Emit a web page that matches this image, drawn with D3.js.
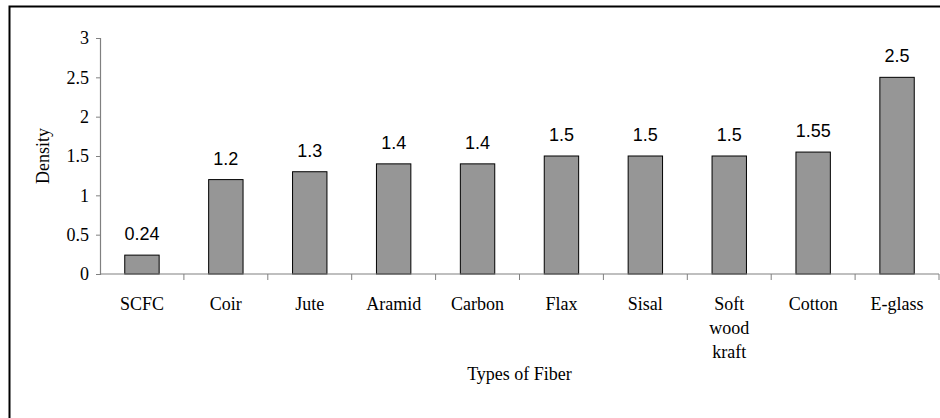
<!DOCTYPE html>
<html>
<head>
<meta charset="utf-8">
<script src="https://cdn.jsdelivr.net/npm/d3@7"></script>
<style>
  body { margin: 0; background: #fff; }
  svg { display: block; }
</style>
</head>
<body>
<svg id="chart"></svg>
<script>
// data
const fibers = ['SCFC', 'Coir', 'Jute', 'Aramid', 'Carbon', 'Flax', 'Sisal', 'Soft wood kraft', 'Cotton', 'E-glass']
const fiberLines = [['SCFC'], ['Coir'], ['Jute'], ['Aramid'], ['Carbon'], ['Flax'], ['Sisal'], ['Soft', 'wood', 'kraft'], ['Cotton'], ['E-glass']]
const density = [0.24, 1.2, 1.3, 1.4, 1.4, 1.5, 1.5, 1.5, 1.55, 2.5]
const densityLabels = ['0.24', '1.2', '1.3', '1.4', '1.4', '1.5', '1.5', '1.5', '1.55', '2.5']
const yTicks = [0, 0.5, 1, 1.5, 2, 2.5, 3]

const width = 940, height = 418
const serif = '"Liberation Serif", "Times New Roman", serif'
const sans = '"Liberation Sans", Arial, sans-serif'

let svg = d3.select('#chart')
    .attr('width', width)
    .attr('height', height)

// outer frame
svg.append('rect')
    .attr('x', 9.5)
    .attr('y', 6.5)
    .attr('width', 940)
    .attr('height', 430)
    .style('fill', '#fff')
    .style('stroke', '#000')
    .style('stroke-width', 2)

const plotLeft = 100, plotRight = 939, plotTop = 38, plotBottom = 274

let x = d3.scaleBand()
    .domain(fibers)
    .range([plotLeft, plotRight])
    .paddingInner(0.59)
    .paddingOuter(0.295)

let y = d3.scaleLinear()
    .domain([0, 3])
    .range([plotBottom, plotTop])

const step = x.step()
const gap = step * x.paddingInner() / 2

// bars
svg.append('g').selectAll('rect')
    .data(fibers)
    .enter().append('rect')
    .attr('x', d => x(d))
    .attr('y', (d, i) => y(density[i]))
    .attr('width', x.bandwidth())
    .attr('height', (d, i) => y(0) - y(density[i]))
    .style('fill', '#969696')
    .style('stroke', '#000')
    .style('stroke-width', 1)

// value labels
svg.append('g').selectAll('text')
    .data(fibers)
    .enter().append('text')
    .attr('x', d => x(d) + x.bandwidth() / 2)
    .attr('y', (d, i) => y(density[i]) - 15)
    .attr('text-anchor', 'middle')
    .style('font-family', sans)
    .style('font-size', '18px')
    .style('fill', '#000')
    .text((d, i) => densityLabels[i])

// y axis
let yAxis = d3.axisLeft(y)
    .tickValues(yTicks)
    .tickSize(4)
    .tickFormat(d => d3.format('')(d))
let yg = svg.append('g')
    .attr('transform', 'translate(' + plotLeft + ',0)')
    .call(yAxis)
yg.select('.domain').attr('stroke', '#808080').attr('stroke-width', 1.2)
yg.selectAll('.tick line').attr('stroke', '#808080')
yg.selectAll('.tick text')
    .attr('x', -11)
    .attr('dy', '0.33em')
    .style('font-family', serif)
    .style('font-size', '18px')
    .style('fill', '#000')

// x axis line with ticks at the category boundaries
svg.append('line')
    .attr('x1', plotLeft).attr('x2', plotRight)
    .attr('y1', plotBottom).attr('y2', plotBottom)
    .attr('stroke', '#808080')
    .attr('stroke-width', 1.2)

let boundaries = fibers.map(d => x(d) - gap).concat([x(fibers[fibers.length - 1]) + x.bandwidth() + gap])
svg.append('g').selectAll('line')
    .data(boundaries.slice(1))
    .enter().append('line')
    .attr('x1', d => d).attr('x2', d => d)
    .attr('y1', plotBottom).attr('y2', plotBottom + 6)
    .attr('stroke', '#808080')
    .attr('stroke-width', 1)

// category labels
let cat = svg.append('g').selectAll('text')
    .data(fibers)
    .enter().append('text')
    .attr('x', d => x(d) + x.bandwidth() / 2)
    .attr('y', 310)
    .attr('text-anchor', 'middle')
    .style('font-family', serif)
    .style('font-size', '18px')
    .style('fill', '#000')

cat.selectAll('tspan')
    .data((d, i) => fiberLines[i])
    .enter().append('tspan')
    .attr('x', function () { return d3.select(this.parentNode).attr('x') })
    .attr('dy', (d, i) => i === 0 ? 0 : 24)
    .text(d => d)

// axis titles
svg.append('text')
    .attr('x', (plotLeft + plotRight) / 2)
    .attr('y', 380)
    .attr('text-anchor', 'middle')
    .style('font-family', serif)
    .style('font-size', '18px')
    .text('Types of Fiber')

svg.append('text')
    .attr('transform', 'translate(49,' + (plotTop + plotBottom) / 2 + ')rotate(-90)')
    .attr('text-anchor', 'middle')
    .style('font-family', serif)
    .style('font-size', '18px')
    .text('Density')
</script>
</body>
</html>
